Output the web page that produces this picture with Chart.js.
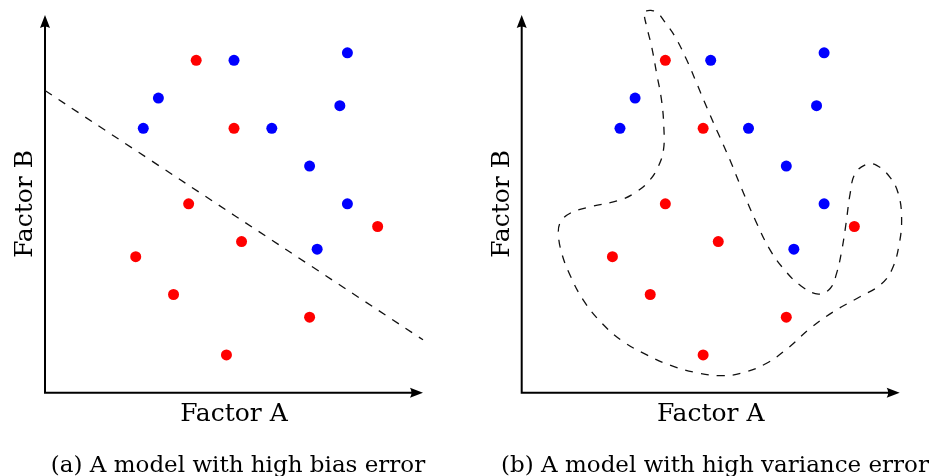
<!DOCTYPE html>
<html>
<head>
<meta charset="utf-8">
<script src="https://cdn.jsdelivr.net/npm/chart.js"></script>
<style>
  html, body { margin: 0; padding: 0; background: #fff; }
  #wrap { position: relative; width: 933px; height: 476px; overflow: hidden; }
  #chartA { position: absolute; left: 0; top: 0; }
  #chartB { position: absolute; left: 466px; top: 0; }
  .caption {
    position: absolute; top: 453px; font-family: "DejaVu Serif", serif;
    font-size: 23px; line-height: 23px; color: #000; white-space: nowrap;
    transform: translateX(-50%);
  }
</style>
</head>
<body>
<div id="wrap">
  <canvas id="chartA" width="466" height="476"></canvas>
  <canvas id="chartB" width="467" height="476"></canvas>
  <div class="caption" id="capA" style="left: 238px;"></div>
  <div class="caption" id="capB" style="left: 715px;"></div>
</div>
<script>
// 데이터: 두 요인 공간의 점들 (단위 = 축 눈금 0..10)
const redA_x = [4.0, 5.0, 3.8, 5.2, 2.4, 3.4, 7.0, 4.8, 8.8];
const redA_y = [8.8, 7.0, 5.0, 4.0, 3.6, 2.6, 2.0, 1.0, 4.4];
const redB_x = [3.8, 4.8, 3.8, 5.2, 2.4, 3.4, 7.0, 4.8, 8.8];
const redB_y = [8.8, 7.0, 5.0, 4.0, 3.6, 2.6, 2.0, 1.0, 4.4];
const blue_x = [5.0, 8.0, 3.0, 7.8, 2.6, 6.0, 7.0, 8.0, 7.2];
const blue_y = [8.8, 9.0, 7.8, 7.6, 7.0, 7.0, 6.0, 5.0, 3.8];

// 높은 편향: 직선 경계
const biasLine_x = [0, 10];
const biasLine_y = [8.0, 1.4];

// 높은 분산: 구불구불한 닫힌 경계
const varLine_x = [3.29, 3.42, 3.58, 3.79, 4.06, 4.37, 4.63, 4.89, 5.20, 5.51, 5.82, 6.22, 6.57, 6.92, 7.36, 7.85,
  8.16, 8.33, 8.47, 8.58, 8.69, 8.82, 9.13, 9.39, 9.74, 9.96, 10.05, 9.99, 9.79, 9.48, 8.95, 8.24, 7.63, 7.03,
  6.48, 5.86, 5.29, 4.63, 3.92, 3.31, 2.69, 2.12, 1.63, 1.28, 1.06, 0.97, 1.03, 1.28, 1.81, 2.60, 3.04, 3.39,
  3.61, 3.75, 3.76, 3.70, 3.57, 3.44, 3.31, 3.24, 3.29];
const varLine_y = [10.11, 10.12, 10.07, 9.81, 9.42, 8.80, 8.19, 7.57, 6.86, 6.16, 5.40, 4.48, 3.78, 3.29, 2.85, 2.61,
  2.76, 3.16, 3.78, 4.48, 5.28, 5.80, 6.05, 6.02, 5.71, 5.28, 4.66, 3.95, 3.25, 2.85, 2.54, 2.14, 1.70, 1.17,
  0.78, 0.53, 0.45, 0.53, 0.73, 1.00, 1.35, 1.84, 2.45, 3.11, 3.69, 4.22, 4.52, 4.75, 4.92, 5.10, 5.32, 5.63,
  5.98, 6.42, 7.04, 7.74, 8.45, 9.15, 9.68, 10.04, 10.11];

const axisTitles = ['Factor A', 'Factor B'];
const captions = ['(a) A model with high bias error', '(b) A model with high variance error'];

const FONT = '"DejaVu Serif", serif';

function pts(xs, ys) {
    return xs.map((x, i) => ({ x: x, y: ys[i] }));
}

// 화살표 축 그리기
const arrowAxes = {
    id: 'arrowAxes',
    beforeDatasetsDraw(chart) {
        const ctx = chart.ctx;
        const xs = chart.scales.x, ys = chart.scales.y;
        const x0 = xs.getPixelForValue(0), y0 = ys.getPixelForValue(0);
        const x1 = xs.getPixelForValue(10), y1 = ys.getPixelForValue(10);
        ctx.save();
        ctx.strokeStyle = '#000';
        ctx.fillStyle = '#000';
        ctx.lineWidth = 2;
        ctx.lineJoin = 'miter';
        ctx.beginPath();
        ctx.moveTo(x0, y1 + 8);
        ctx.lineTo(x0, y0);
        ctx.lineTo(x1 - 8, y0);
        ctx.stroke();
        // x 화살촉
        ctx.beginPath();
        ctx.moveTo(x1, y0);
        ctx.lineTo(x1 - 13, y0 - 5);
        ctx.quadraticCurveTo(x1 - 10, y0, x1 - 13, y0 + 5);
        ctx.closePath();
        ctx.fill();
        // y 화살촉
        ctx.beginPath();
        ctx.moveTo(x0, y1);
        ctx.lineTo(x0 - 5, y1 + 13);
        ctx.quadraticCurveTo(x0, y1 + 10, x0 + 5, y1 + 13);
        ctx.closePath();
        ctx.fill();
        ctx.restore();
    }
};

function makeChart(id, redX, redY, lineX, lineY, padLeft, padRight) {
    const ctx = document.getElementById(id).getContext('2d');
    return new Chart(ctx, {
        type: 'scatter',
        data: {
            datasets: [
                {
                    data: pts(lineX, lineY),
                    showLine: true,
                    borderColor: '#111',
                    borderWidth: 1.3,
                    borderDash: [8, 8],
                    pointRadius: 0,
                    tension: 0.4,
                    capBezierPoints: false,
                    clip: false
                },
                {
                    data: pts(redX, redY),
                    backgroundColor: '#ff0000',
                    pointRadius: 5.5,
                    pointBorderWidth: 0,
                    clip: false
                },
                {
                    data: pts(blue_x, blue_y),
                    backgroundColor: '#0000ff',
                    pointRadius: 5.5,
                    pointBorderWidth: 0,
                    clip: false
                }
            ]
        },
        options: {
            responsive: false,
            animation: false,
            events: [],
            layout: { padding: { left: padLeft, right: padRight, top: 15, bottom: 0 } },
            plugins: { legend: { display: false }, tooltip: { enabled: false } },
            scales: {
                x: {
                    type: 'linear', min: 0, max: 10,
                    grid: { display: false, drawTicks: false },
                    border: { display: false },
                    ticks: { display: false },
                    title: {
                        display: true, text: axisTitles[0], color: '#000',
                        font: { family: FONT, size: 25, lineHeight: 1.2 },
                        padding: { top: 7, bottom: 46.3 }
                    }
                },
                y: {
                    type: 'linear', min: 0, max: 10,
                    grid: { display: false, drawTicks: false },
                    border: { display: false },
                    ticks: { display: false },
                    title: {
                        display: true, text: axisTitles[1], color: '#000',
                        font: { family: FONT, size: 25, lineHeight: 1.2 },
                        padding: { top: 10.4, bottom: 4.6 }
                    }
                }
            }
        },
        plugins: [arrowAxes]
    });
}

makeChart('chartA', redA_x, redA_y, biasLine_x, biasLine_y, 0, 43);
makeChart('chartB', redB_x, redB_y, varLine_x, varLine_y, 10.7, 33.3);

document.getElementById('capA').textContent = captions[0];
document.getElementById('capB').textContent = captions[1];
</script>
</body>
</html>
